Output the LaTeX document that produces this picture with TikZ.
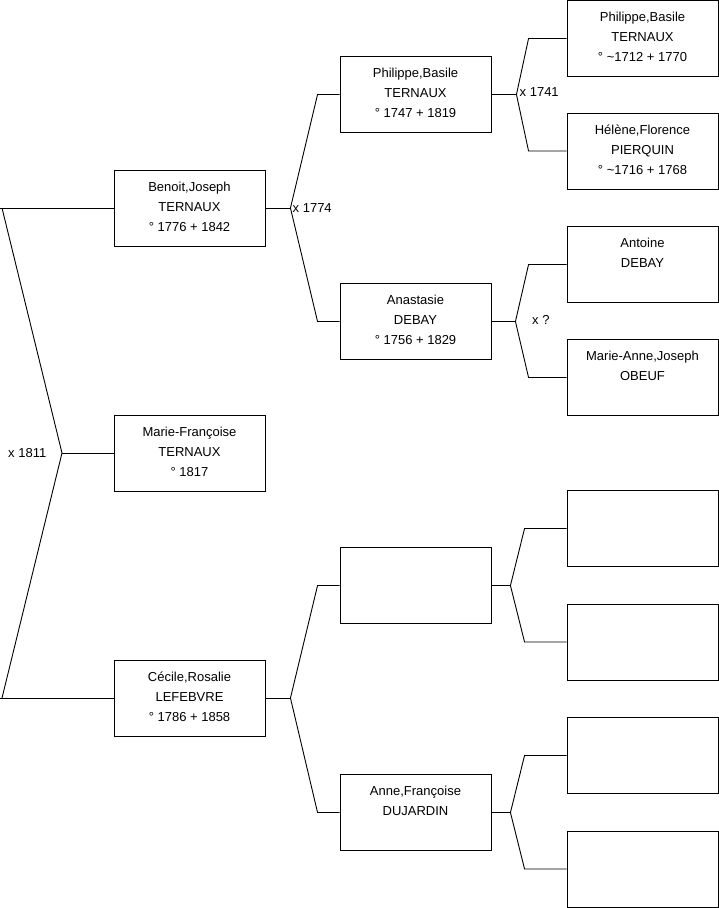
\documentclass[tikz,border=0pt]{standalone}
\usepackage{fontspec}
\setmainfont{Liberation Sans}
\begin{document}
\newcommand\person[4]{%
  \node[box] (#1) at (#2,#3) {};
  \node[txt, anchor=north] (#1t) at ([yshift=-7.5pt]#1.north) {\rule{0pt}{14pt}#4};}
\newcommand\emptyperson[3]{\node[box] (#1) at (#2,#3) {};}
\newcommand\fork[6]{%
  \coordinate (#6) at ([xshift=#4]#1.east);
  \draw[conn] (#1.east) -- (#6);
  \draw[conn] (#2.west) -- ([xshift=-#5]#2.west) -- (#6) -- ([xshift=-#5]#3.west) -- (#3.west);}
\begin{tikzpicture}[x=1pt,y=-1pt,
  box/.style={draw=black, line width=0.9pt, minimum width=151pt, minimum height=76pt, inner sep=0pt},
  txt/.style={align=center, inner sep=0pt, font=\fontsize{13}{20}\selectfont},
  lab/.style={anchor=west, inner sep=0pt, font=\fontsize{13}{15}\selectfont},
  conn/.style={line width=0.9pt}]
\useasboundingbox (0,0) rectangle (719,908);
% generation 1
\person{b1}{189.5}{208}{Benoit,Joseph\\TERNAUX\\° 1776 + 1842}
\person{m1}{189.5}{453}{Marie-Françoise\\TERNAUX\\° 1817}
\person{c1}{189.5}{698}{Cécile,Rosalie\\LEFEBVRE\\° 1786 + 1858}
% generation 2
\person{p2}{415.5}{94.5}{Philippe,Basile\\TERNAUX\\° 1747 + 1819}
\person{a2}{415.5}{321.5}{Anastasie\\DEBAY\\° 1756 + 1829}
\emptyperson{u2}{415.5}{585.5}
\person{d2}{415.5}{812.5}{Anne,Françoise\\DUJARDIN}
% generation 3
\person{g1}{642.5}{38.5}{Philippe,Basile\\TERNAUX\\° \textasciitilde1712 + 1770}
\person{g2}{642.5}{151}{Hélène,Florence\\PIERQUIN\\° \textasciitilde1716 + 1768}
\person{g3}{642.5}{264.5}{Antoine\\DEBAY}
\person{g4}{642.5}{377.5}{Marie-Anne,Joseph\\OBEUF}
\emptyperson{g5}{642.5}{528.5}
\emptyperson{g6}{642.5}{642}
\emptyperson{g7}{642.5}{755.5}
\emptyperson{g8}{642.5}{869}
% root connectors
\coordinate (rt) at (0,208);
\coordinate (rb) at (0,698);
\coordinate (rf) at (62,453);
\draw[conn] (rt) -- (b1.west);
\draw[conn] (rb) -- (c1.west);
\draw[conn] ([xshift=2pt]rt) -- (rf) -- ([xshift=2pt]rb);
\draw[conn] (rf) -- (m1.west);
% forks
\fork{b1}{p2}{a2}{25pt}{22pt}{f1}
\fork{c1}{u2}{d2}{25pt}{22pt}{f2}
\fork{p2}{g1}{g2}{25pt}{38pt}{f3}
\fork{a2}{g3}{g4}{24pt}{38pt}{f4}
\fork{u2}{g5}{g6}{19pt}{42pt}{f5}
\fork{d2}{g7}{g8}{19pt}{42pt}{f6}
% marriage labels
\node[lab] (l1) at (8,453) {x 1811};
\node[lab] (l2) at (292.5,208) {x 1774};
\node[lab] (l3) at (519.5,92) {x 1741};
\node[lab] (l4) at (532,320) {x ?};
\end{tikzpicture}
\end{document}
